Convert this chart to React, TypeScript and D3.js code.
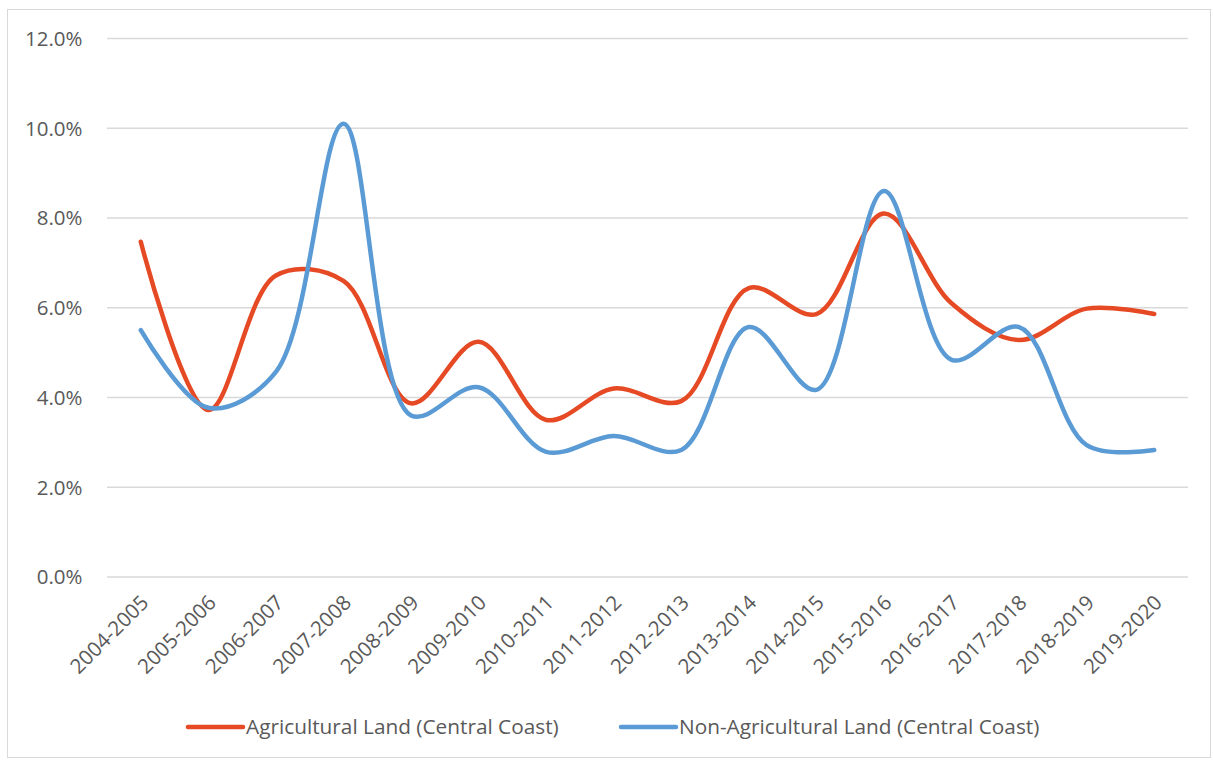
import React from "react";
import * as d3 from "d3";

const categories = [
  "2004-2005", "2005-2006", "2006-2007", "2007-2008", "2008-2009", "2009-2010",
  "2010-2011", "2011-2012", "2012-2013", "2013-2014", "2014-2015", "2015-2016",
  "2016-2017", "2017-2018", "2018-2019", "2019-2020",
];
const agricultural = [7.47, 3.72, 6.72, 6.6, 3.87, 5.24, 3.5, 4.2, 3.92, 6.44, 5.86, 8.1, 6.1, 5.28, 5.98, 5.86];
const nonAgricultural = [5.5, 3.77, 4.57, 10.1, 3.6, 4.23, 2.79, 3.14, 2.83, 5.57, 4.17, 8.6, 4.84, 5.57, 2.94, 2.83];
const yTicks = [0, 2, 4, 6, 8, 10, 12];

const seriesList = [
  { name: "Agricultural Land (Central Coast)", values: agricultural, color: "#E64A25" },
  { name: "Non-Agricultural Land (Central Coast)", values: nonAgricultural, color: "#5B9BD5" },
];

const W = 1213;
const H = 760;
const plot = { left: 107, right: 1188, top: 38.5, bottom: 577 };
const FONT = "'Open Sans', 'Noto Sans', sans-serif";
const TEXT = "#595959";

export default function App() {
  const x = d3.scaleBand<string>().domain(categories).range([plot.left, plot.right]);
  const y = d3.scaleLinear().domain([0, 12]).range([plot.bottom, plot.top]);
  const cx = (c: string) => (x(c) ?? 0) + x.bandwidth() / 2;

  const line = d3
    .line<number>()
    .x((_, i) => cx(categories[i]))
    .y((v) => y(v))
    .curve(d3.curveCatmullRom.alpha(0.5));

  return (
    <svg width={W} height={H} style={{ position: "absolute", left: 0, top: 0 }}>
      <rect x={0} y={0} width={W} height={H} fill="#fff" />
      <rect x={7.5} y={9.5} width={1203} height={748} fill="#fff" stroke="#d9d9d9" strokeWidth={1} />
      {yTicks.map((t) => (
        <g key={t}>
          <line x1={plot.left} x2={plot.right} y1={y(t)} y2={y(t)} stroke="#d9d9d9" strokeWidth={1.3} />
          <text x={82.5} y={y(t)} dy="0.36em" textAnchor="end" fontFamily={FONT} fontSize={20.5} fill={TEXT}>
            {t.toFixed(1)}%
          </text>
        </g>
      ))}
      {categories.map((c) => (
        <text
          key={c}
          transform={`translate(${cx(c) + 9},${plot.bottom + 27}) rotate(-45)`}
          textAnchor="end"
          fontFamily={FONT}
          fontSize={20.5}
          fill={TEXT}
        >
          {c}
        </text>
      ))}
      {seriesList.map((s) => (
        <path
          key={s.name}
          d={line(s.values) ?? ""}
          fill="none"
          stroke={s.color}
          strokeWidth={4.5}
          strokeLinecap="round"
          strokeLinejoin="round"
        />
      ))}
      {seriesList.map((s, i) => {
        const lx = i === 0 ? 188 : 621;
        return (
          <g key={s.name}>
            <line x1={lx} x2={lx + 55} y1={727} y2={727} stroke={s.color} strokeWidth={4.5} strokeLinecap="round" />
            <text x={lx + 58} y={727} dy="0.36em" fontFamily={FONT} fontSize={20.8} fill={TEXT}>
              {s.name}
            </text>
          </g>
        );
      })}
    </svg>
  );
}
